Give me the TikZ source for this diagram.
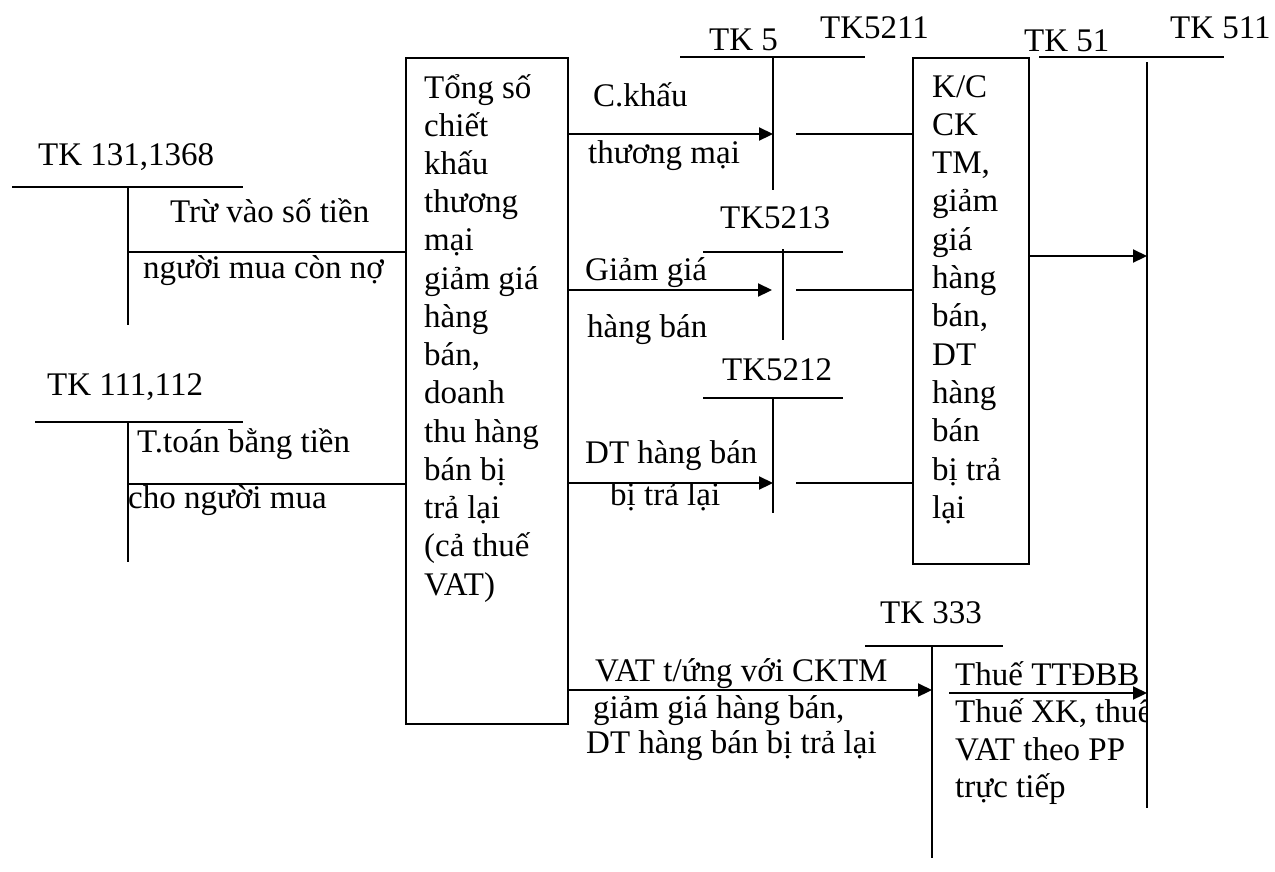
\documentclass[tikz,border=0pt]{standalone}
\usepackage{fontspec}
\setmainfont{Liberation Serif}
\usetikzlibrary{arrows.meta}
\newcommand\bigtxt{\fontsize{33}{38.3}\selectfont}
\begin{document}
\begin{tikzpicture}[x=1pt,y=-1pt,
  ln/.style={line width=1.6pt},
  arr/.style={line width=2.2pt,-{Triangle[length=14pt,width=13pt]}},
  lbl/.style={anchor=base west,inner sep=0pt,font=\bigtxt},
  bx/.style={draw,line width=1.6pt,anchor=north west,inner sep=0pt}
]
\useasboundingbox (0,0) rectangle (1275,871);

% ---------- boxes ----------
\node[bx,minimum width=162pt,minimum height=666pt] (box1) at (405,57) {};
\node[bx,minimum width=116pt,minimum height=506pt] (kc) at (912,57) {};

\foreach \t [count=\i from 0] in {{Tổng số},{chiết},{khấu},{thương},{mại},{giảm giá},{hàng},{bán,},{doanh},{thu hàng},{bán bị},{trả lại},{(cả thuế},{VAT)}}
  \node[lbl] (m\i) at (424,98+38.23*\i) {\t};

\foreach \t [count=\i from 0] in {{K/C},{CK},{TM,},{giảm},{giá},{hàng},{bán,},{DT},{hàng},{bán},{bị trả},{lại}}
  \node[lbl] (k\i) at (932,97+38.3*\i) {\t};

% ---------- TK 131,1368 ----------
\coordinate (a1l) at (12,187); \coordinate (a1r) at (243,187);
\coordinate (a1t) at (128,187); \coordinate (a1b) at (128,325);
\draw[ln] (a1l) -- (a1r);
\draw[ln] (a1t) -- (a1b);
\node[lbl] (a1n) at (38,165) {TK 131,1368};
\node[lbl] (a1x) at (170,222) {Trừ vào số tiền};
\node[lbl] (a1y) at (143,278) {người mua còn nợ};
\coordinate (a1c) at (128,252);
\draw[ln] (a1c) -- (a1c -| box1.west);

% ---------- TK 111,112 ----------
\coordinate (a2l) at (35,422); \coordinate (a2r) at (243,422);
\coordinate (a2t) at (128,422); \coordinate (a2b) at (128,562);
\draw[ln] (a2l) -- (a2r);
\draw[ln] (a2t) -- (a2b);
\node[lbl] (a2n) at (47,395) {TK 111,112};
\node[lbl] (a2x) at (137,452) {T.toán bằng tiền};
\node[lbl] (a2y) at (128,508) {cho người mua};
\coordinate (a2c) at (128,484);
\draw[ln] (a2c) -- (a2c -| box1.west);

% ---------- TK 5211 ----------
\coordinate (b1l) at (680,57); \coordinate (b1r) at (865,57);
\coordinate (b1t) at (773,57); \coordinate (b1b) at (773,190);
\draw[ln] (b1l) -- (b1r);
\draw[ln] (b1t) -- (b1b);
\begin{scope}
  \clip (700,0) rectangle (776,60);
  \node[lbl] (b1n) at (709,50) {TK 521};
\end{scope}
\node[lbl] (b1m) at (820,38) {TK5211};
\coordinate (b1a) at (773,134);
\draw[arr] (b1a -| box1.east) -- (b1a);
\node[lbl] (b1x) at (593,106) {C.khấu};
\node[lbl] (b1y) at (588,163) {thương mại};
\coordinate (b1o) at (796,134);
\draw[ln] (b1o) -- (b1o -| kc.west);

% ---------- TK 5213 ----------
\coordinate (b2l) at (703,252); \coordinate (b2r) at (843,252);
\coordinate (b2t) at (783,249); \coordinate (b2b) at (783,340);
\draw[ln] (b2l) -- (b2r);
\draw[ln] (b2t) -- (b2b);
\node[lbl] (b2n) at (720,228) {TK5213};
\coordinate (b2a) at (772,290);
\draw[arr] (b2a -| box1.east) -- (b2a);
\node[lbl] (b2x) at (585,280) {Giảm giá};
\node[lbl] (b2y) at (587,337) {hàng bán};
\coordinate (b2o) at (796,290);
\draw[ln] (b2o) -- (b2o -| kc.west);

% ---------- TK 5212 ----------
\coordinate (b3l) at (703,398); \coordinate (b3r) at (843,398);
\coordinate (b3t) at (773,398); \coordinate (b3b) at (773,513);
\draw[ln] (b3l) -- (b3r);
\draw[ln] (b3t) -- (b3b);
\node[lbl] (b3n) at (722,380) {TK5212};
\coordinate (b3a) at (773,483);
\draw[arr] (b3a -| box1.east) -- (b3a);
\node[lbl] (b3x) at (585,463) {DT hàng bán};
\node[lbl] (b3y) at (610,505) {bị trả lại};
\coordinate (b3o) at (796,483);
\draw[ln] (b3o) -- (b3o -| kc.west);

% ---------- TK 511 ----------
\coordinate (c1l) at (1039,57); \coordinate (c1r) at (1224,57);
\coordinate (c1t) at (1147,62); \coordinate (c1b) at (1147,808);
\draw[ln] (c1l) -- (c1r);
\draw[ln] (c1t) -- (c1b);
\node[lbl] (c1n) at (1024,51) {TK 51};
\node[lbl] (c1m) at (1170,38) {TK 511};
\coordinate (c1a) at (1147,256);
\draw[arr] (c1a -| kc.east) -- (c1a);

% ---------- TK 333 ----------
\coordinate (d1l) at (865,646); \coordinate (d1r) at (1003,646);
\coordinate (d1t) at (932,646); \coordinate (d1b) at (932,858);
\draw[ln] (d1l) -- (d1r);
\draw[ln] (d1t) -- (d1b);
\node[lbl] (d1n) at (880,623) {TK 333};
\coordinate (d1a) at (932,690);
\draw[arr] (d1a -| box1.east) -- (d1a);
\node[lbl] (d1x) at (595,681) {VAT t/ứng với CKTM};
\node[lbl] (d1y) at (593,718) {giảm giá hàng bán,};
\node[lbl] (d1z) at (586,753) {DT hàng bán bị trả lại};

\coordinate (d2s) at (949,693);
\draw[arr] (d2s) -- (d2s -| c1t);
\node[lbl] (d2x) at (955,685) {Thuế TTĐBB};
\begin{scope}
  \clip (940,690) rectangle (1147,740);
  \node[lbl] (d2y) at (955,722) {Thuế XK, thuế};
\end{scope}
\node[lbl] (d2z) at (955,760) {VAT theo PP};
\node[lbl] (d2w) at (955,797) {trực tiếp};
\end{tikzpicture}
\end{document}
